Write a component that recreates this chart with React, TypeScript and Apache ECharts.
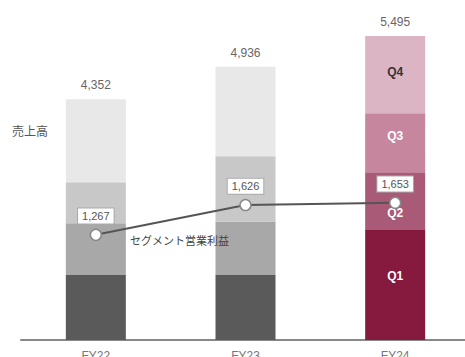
import React, { useEffect, useRef } from "react";
import * as echarts from "echarts";

const categories = ["FY22", "FY23", "FY24"];
const q1 = [1173, 1173, 1986];
const q2 = [939, 962, 1047];
const q3 = [740, 1186, 1065];
const q4 = [1500, 1615, 1397];
const totals = [4352, 4936, 5495];
const segmentProfit = [1267, 1626, 1653];
const quarterNames = ["Q1", "Q2", "Q3", "Q4"];

const grayColors = ["#5a5a5a", "#a8a8a8", "#c8c8c8", "#e8e8e8"];
const redColors = ["#861a3e", "#a85a77", "#c6879e", "#dbb5c4"];
const highlightIndex = 2;

const FONT = "'Liberation Sans', 'Noto Sans CJK JP', sans-serif";
const JFONT = "'Noto Sans CJK JP', sans-serif";

export default function App() {
  const ref = useRef<HTMLDivElement>(null);
  useEffect(() => {
    document.body.style.margin = "0";
    const chart = echarts.init(ref.current!, null, { renderer: "svg" });
    const quarterData = [q1, q2, q3, q4];
    const labelOffsets = [[0, -9], [0, 12], [0, -7], [0, -3]];
    const barSeries = quarterData.map((vals, qi) => ({
      type: "bar",
      name: quarterNames[qi],
      stack: "sales",
      barWidth: 60,
      data: vals.map((v, i) => ({
        value: v,
        itemStyle: { color: i === highlightIndex ? redColors[qi] : grayColors[qi] },
        label: {
          show: i === highlightIndex,
          position: "inside",
          offset: labelOffsets[qi],
          formatter: quarterNames[qi],
          color: qi === 3 ? "#333" : "#fff",
          fontWeight: "bold",
          fontSize: 12,
          fontFamily: FONT,
        },
      })),
    }));
    chart.setOption({
      animation: false,
      grid: { left: 21, width: 449, top: 8, bottom: 17, containLabel: false, outerBoundsMode: "none" },
      xAxis: {
        type: "category",
        data: categories,
        axisLine: { show: true, lineStyle: { color: "#888", width: 2 } },
        axisTick: { show: false },
        axisLabel: { color: "#777", fontSize: 12, margin: 10, fontFamily: FONT },
      },
      yAxis: [
        { type: "value", min: 0, max: 6000, show: false, splitLine: { show: false } },
        { type: "value", min: 0, max: 4000, show: false, splitLine: { show: false } },
      ],
      series: [
        ...barSeries,
        {
          type: "bar",
          stack: "sales",
          barWidth: 60,
          data: totals.map(() => 0),
          itemStyle: { color: "transparent" },
          label: {
            show: true,
            position: "top",
            distance: 8,
            formatter: (p: any) => totals[p.dataIndex].toLocaleString("en-US"),
            color: "#666",
            fontSize: 12,
            fontFamily: FONT,
          },
        },
        {
          type: "line",
          yAxisIndex: 1,
          data: segmentProfit,
          lineStyle: { color: "#555", width: 2 },
          symbol: "circle",
          symbolSize: 11,
          itemStyle: { color: "#fff", borderColor: "#888", borderWidth: 1.5 },
          label: {
            show: true,
            position: "top",
            distance: 5,
            formatter: (p: any) => p.value.toLocaleString("en-US"),
            color: "#555",
            fontSize: 11,
            fontFamily: FONT,
            backgroundColor: "#fff",
            borderColor: "#aaa",
            borderWidth: 1,
            padding: [2, 4],
          },
          z: 5,
        },
      ],
      graphic: [
        {
          type: "text",
          left: 12,
          top: 124,
          z: 100,
          style: { text: "売上高", fill: "#555", fontSize: 12, fontFamily: JFONT },
        },
        {
          type: "text",
          left: 130,
          top: 234,
          z: 100,
          style: { text: "セグメント営業利益", fill: "#444", fontSize: 11, fontFamily: JFONT },
        },
      ],
    });
    return () => chart.dispose();
  }, []);
  return <div ref={ref} style={{ width: 465, height: 357 }} />;
}
